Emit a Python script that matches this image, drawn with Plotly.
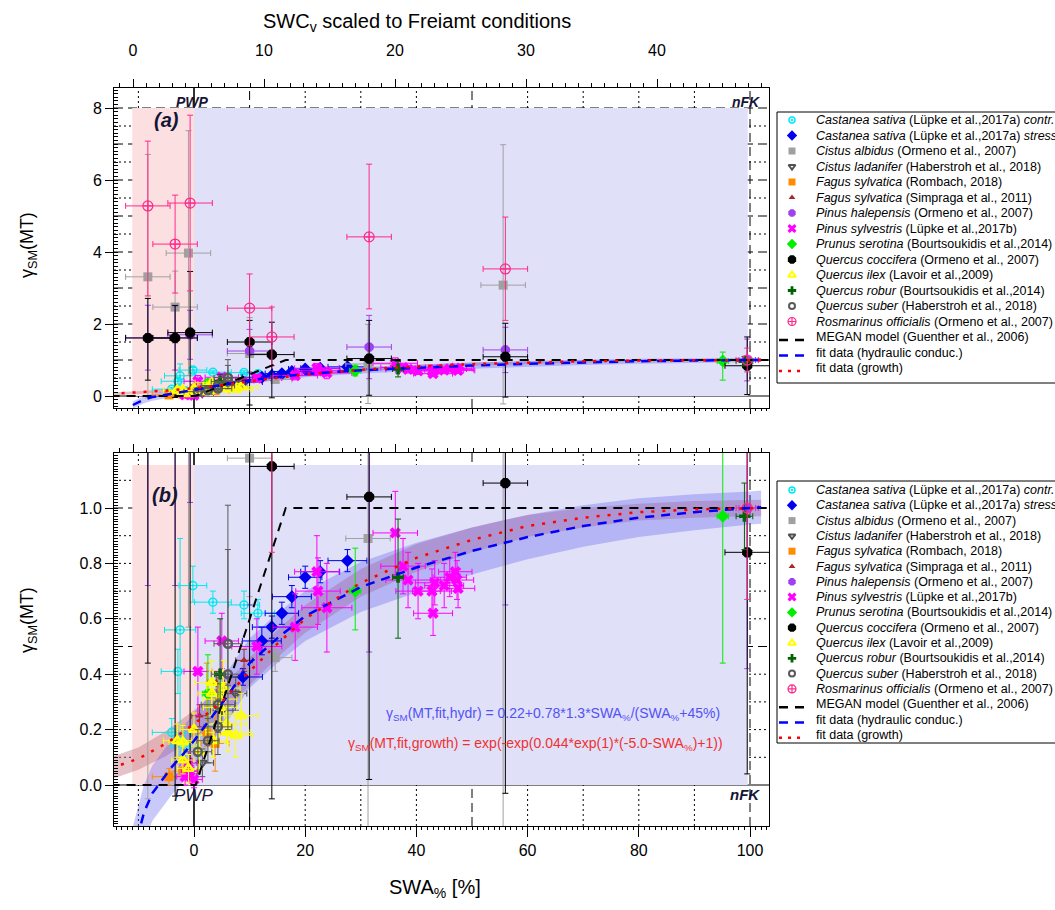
import plotly.graph_objects as go

W, H = 1055, 910

# ---------------- data ----------------
swa_tick_vals = [0, 20, 40, 60, 80, 100]
swc_tick_vals = [0, 10, 20, 30, 40]
ya_tick_vals = [0, 2, 4, 6, 8]
yb_tick_vals = [0.0, 0.2, 0.4, 0.6, 0.8, 1.0]
yb_tick_text = ["0.0", "0.2", "0.4", "0.6", "0.8", "1.0"]

# Castanea sativa control (cyan)
cs_contr_x = [-2.9, -2.5, -0.2, 3.4, 9.0, 11.5, -4.0, -1.5]
cs_contr_y = [0.41, 0.56, 0.72, 0.66, 0.65, 0.62, 0.19, 0.14]
cs_contr_ex = [3.0, 2.8, 2.5, 3.3, 2.8, 3.0, 3.5, 2.5]
cs_contr_eyp = [0.08, 0.33, 0.07, 0.04, 0.05, 0.05, 0.05, 0.05]
cs_contr_eym = [0.08, 0.52, 0.06, 0.04, 0.05, 0.05, 0.05, 0.05]

# Castanea sativa stress (blue)
cs_stress_x = [8.8, 12.2, 14.0, 15.8, 17.6, 20.0, 22.7, 27.6]
cs_stress_y = [0.39, 0.52, 0.57, 0.62, 0.68, 0.75, 0.77, 0.81]
cs_stress_ex = [3.5, 3.5, 3.5, 3.0, 3.5, 3.0, 3.5, 3.5]
cs_stress_ey = [0.03, 0.05, 0.04, 0.04, 0.04, 0.04, 0.04, 0.04]

# Cistus albidus (grey squares)
ca_x = [-8.3, -3.4, -1.0, 10.0, 14.6, 31.3, 55.6]
ca_y = [3.31, 2.47, 3.97, 1.18, 0.46, 0.89, 3.08]
ca_ex = [4.0, 4.0, 4.0, 4.0, 3.0, 4.0, 4.0]
ca_eyp = [3.4, 1.0, 3.4, 1.0, 0.05, 1.1, 3.9]
ca_eym = [3.36, 1.0, 3.4, 0.5, 0.05, 1.1, 3.3]

# Cistus ladanifer (dark grey open triangles)
cl_x = [1.5, 5.0, 7.5]
cl_y = [0.08, 0.27, 0.33]
cl_ex = [2.0, 2.0, 2.0]
cl_ey = [0.05, 0.06, 0.06]

# Fagus sylvatica Rombach (orange)
fr_x = [-4.5, -2.0, 2.3, 3.8]
fr_y = [0.03, 0.05, 0.19, 0.15]
fr_ex = [3.0, 2.5, 2.5, 2.5]
fr_eyp = [0.03, 0.03, 0.25, 0.1]
fr_eym = [0.03, 0.03, 0.05, 0.1]

# Fagus sylvatica Simpraga (brown triangles)
fs_x = [1.0, 4.0, 9.0]
fs_y = [0.25, 0.37, 0.45]
fs_ex = [1.5, 1.5, 1.5]
fs_ey = [0.04, 0.04, 0.04]

# Pinus halepensis (purple)
ph_x = [-8.3, -3.4, -0.7, 10.0, 31.5, 56.0, 99.5]
ph_y = [1.62, 1.62, 1.70, 1.25, 1.36, 1.28, 1.00]
ph_ex = [4.0, 4.0, 4.0, 4.0, 4.0, 4.0, 1.5]
ph_ey = [0.9, 0.9, 0.68, 0.6, 0.88, 0.63, 0.58]

# Pinus sylvestris (magenta x)
ps_x = [-1.6, -0.8, 0.0, -1.0, 0.7, 5.0, 11.3, 18.2, 22.1, 22.3, 23.9, 36.2, 37.6, 38.5,
        40.3, 42.8, 43.0, 43.3, 45.0, 46.0, 47.0, 47.3, 47.5]
ps_y = [0.03, 0.05, 0.02, 0.08, 0.41, 0.52, 0.50, 0.57, 0.77, 0.70, 0.64, 0.91, 0.79, 0.74,
        0.70, 0.70, 0.62, 0.73, 0.72, 0.75, 0.77, 0.74, 0.71]
ps_ex = [1.5, 1.5, 1.5, 1.5, 2.5, 3.0, 4.5, 4.0, 4.0, 4.0, 4.5, 4.0, 4.0, 4.0,
         4.0, 3.5, 3.5, 3.5, 3.5, 3.0, 3.0, 3.0, 3.0]
ps_ey = [0.03, 0.03, 0.03, 0.04, 0.16, 0.10, 0.10, 0.12, 0.13, 0.12, 0.16, 0.15, 0.10, 0.10,
         0.10, 0.08, 0.08, 0.08, 0.08, 0.07, 0.07, 0.07, 0.07]

# Prunus serotina (green)
pr_x = [2.5, 29.0, 95.1]
pr_y = [0.33, 0.70, 0.97]
pr_ex = [1.0, 1.0, 1.0]
pr_eyp = [0.14, 0.155, 0.25]
pr_eym = [0.14, 0.14, 0.53]

# Quercus coccifera (black)
qc_x = [-8.3, -3.4, -0.7, 10.0, 14.0, 31.5, 56.0, 99.5]
qc_y = [1.61, 1.61, 1.76, 1.50, 1.15, 1.04, 1.09, 0.84]
qc_ex = [4.0, 4.0, 4.0, 4.0, 4.0, 4.0, 4.0, 4.0]
qc_eyp = [1.1, 0.9, 1.7, 0.6, 0.9, 1.06, 0.93, 0.8]
qc_eym = [1.17, 1.65, 1.7, 1.75, 1.2, 1.02, 1.12, 0.8]

# Quercus ilex (yellow)
qi_x = [-2.0, 3.2, 3.2, 4.7, 5.9, 6.1, 3.5, -1.0, -2.0, -3.0, 5.3, 4.7, 7.5, 8.5, 1.0, 0.0]
qi_y = [0.155, 0.37, 0.33, 0.31, 0.22, 0.19, 0.16, 0.06, 0.09, 0.16, 0.35, 0.28, 0.18, 0.25, 0.12, 0.20]
qi_ex = [2.5, 3.0, 2.5, 3.0, 3.5, 4.0, 2.5, 2.0, 2.0, 2.5, 3.0, 3.0, 3.0, 3.0, 2.5, 2.5]
qi_ey = [0.06, 0.08, 0.08, 0.08, 0.07, 0.07, 0.06, 0.05, 0.05, 0.06, 0.1, 0.08, 0.08, 0.08, 0.06, 0.06]

# Quercus robur (dark green)
qr_x = [4.7, 36.7, 99.0]
qr_y = [0.40, 0.75, 0.97]
qr_ex = [1.0, 1.0, 1.5]
qr_eyp = [0.20, 0.21, 0.12]
qr_eym = [0.10, 0.22, 0.12]

# Quercus suber (grey open)
qs_x = [6.1, 6.1, 4.3, 4.3, 0.7, 2.5]
qs_y = [0.51, 0.40, 0.29, 0.21, 0.12, 0.16]
qs_ex = [2.5, 3.0, 3.0, 2.5, 2.5, 2.0]
qs_eyp = [0.50, 0.45, 0.10, 0.10, 0.08, 0.08]
qs_eym = [0.15, 0.20, 0.10, 0.10, 0.08, 0.08]

# Rosmarinus officialis (pink)
ro_x = [-8.3, -3.4, -0.7, 10.0, 14.0, 31.5, 56.0, 99.5]
ro_y = [5.28, 4.22, 5.36, 2.44, 1.64, 4.42, 3.53, 1.00]
ro_ex = [4.0, 4.0, 4.0, 4.0, 4.0, 4.0, 4.0, 2.0]
ro_eyp = [1.8, 1.36, 2.44, 0.95, 0.83, 2.02, 1.44, 0.33]
ro_eym = [2.5, 1.36, 2.44, 1.05, 0.80, 2.00, 1.43, 0.33]

# MEGAN model
megan_x = [-15.0, 0.3, 16.5, 105.0]
megan_y = [0.0, 0.0, 1.0, 1.0]

# fit (hydraulic conductivity) with band half width
hydr_x = [-11, -9, -7.5, -6, -4, -2, 0, 3, 6, 10, 15, 20, 30, 40, 50, 60, 70, 80, 90, 100, 102]
hydr_y = [-0.25, -0.10, -0.03, 0.01, 0.065, 0.11, 0.16, 0.24, 0.32, 0.44, 0.53, 0.61, 0.715, 0.785,
          0.845, 0.895, 0.935, 0.965, 0.985, 1.0, 1.003]
hydr_w = [0.10, 0.10, 0.10, 0.10, 0.10, 0.10, 0.10, 0.09, 0.09, 0.09, 0.09, 0.09, 0.09, 0.09,
          0.085, 0.08, 0.075, 0.07, 0.065, 0.06, 0.06]

# fit (growth) with band half width
grow_x = [-15, -10, -5, 0, 5, 10, 15, 20, 30, 40, 50, 60, 70, 80, 90, 100, 102]
grow_y = [0.06, 0.095, 0.15, 0.22, 0.30, 0.41, 0.51, 0.60, 0.73, 0.82, 0.885, 0.935, 0.965,
          0.985, 0.995, 1.0, 1.0]
grow_w = [0.04, 0.04, 0.045, 0.05, 0.05, 0.05, 0.05, 0.05, 0.05, 0.05, 0.045, 0.04, 0.035,
          0.03, 0.03, 0.03, 0.03]

# legend texts
legend_labels = [
    "<i>Castanea sativa</i> (Lüpke et al.,2017a) <i>contr.</i>",
    "<i>Castanea sativa</i> (Lüpke et al.,2017a) <i>stress</i>",
    "<i>Cistus albidus</i> (Ormeno et al., 2007)",
    "<i>Cistus ladanifer</i> (Haberstroh et al., 2018)",
    "<i>Fagus sylvatica</i> (Rombach, 2018)",
    "<i>Fagus sylvatica</i> (Simpraga et al., 2011)",
    "<i>Pinus halepensis</i> (Ormeno et al., 2007)",
    "<i>Pinus sylvestris</i> (Lüpke et al.,2017b)",
    "<i>Prunus serotina</i> (Bourtsoukidis et al.,2014)",
    "<i>Quercus coccifera</i> (Ormeno et al., 2007)",
    "<i>Quercus ilex</i> (Lavoir et al.,2009)",
    "<i>Quercus robur</i> (Bourtsoukidis et al.,2014)",
    "<i>Quercus suber</i> (Haberstroh et al., 2018)",
    "<i>Rosmarinus officialis</i> (Ormeno et al., 2007)",
    "MEGAN model (Guenther et al., 2006)",
    "fit data (hydraulic conduc.)",
    "fit data (growth)",
]

# ---------------- styles ----------------
SANS = "Liberation Sans, Arial, sans-serif"

species = [
    (cs_contr_x, cs_contr_y, cs_contr_ex, cs_contr_eyp, cs_contr_eym,
     dict(symbol="circle-open-dot", color="#00e8f0", size=8, lw=1.5)),
    (cs_stress_x, cs_stress_y, cs_stress_ex, cs_stress_ey, cs_stress_ey,
     dict(symbol="diamond", color="#0000ee", size=10, lw=0)),
    (ca_x, ca_y, ca_ex, ca_eyp, ca_eym,
     dict(symbol="square", color="#a0a0a0", size=9, lw=0)),
    (cl_x, cl_y, cl_ex, cl_ey, cl_ey,
     dict(symbol="triangle-down-open", color="#505050", size=8, lw=2)),
    (fr_x, fr_y, fr_ex, fr_eyp, fr_eym,
     dict(symbol="square", color="#ff8c00", size=9, lw=0)),
    (fs_x, fs_y, fs_ex, fs_ey, fs_ey,
     dict(symbol="triangle-up", color="#a52a2a", size=7, lw=0)),
    (ph_x, ph_y, ph_ex, ph_ey, ph_ey,
     dict(symbol="octagon", color="#a040f0", size=10, lw=0)),
    (ps_x, ps_y, ps_ex, ps_ey, ps_ey,
     dict(symbol="x", color="#ff00ff", size=10, lw=0)),
    (pr_x, pr_y, pr_ex, pr_eyp, pr_eym,
     dict(symbol="diamond", color="#00ee00", size=10, lw=0)),
    (qc_x, qc_y, qc_ex, qc_eyp, qc_eym,
     dict(symbol="octagon", color="#000000", size=11, lw=0)),
    (qi_x, qi_y, qi_ex, qi_ey, qi_ey,
     dict(symbol="triangle-up-open", color="#ffff00", size=9, lw=2.5)),
    (qr_x, qr_y, qr_ex, qr_eyp, qr_eym,
     dict(symbol="cross", color="#006400", size=9, lw=0)),
    (qs_x, qs_y, qs_ex, qs_eyp, qs_eym,
     dict(symbol="circle-open", color="#5a5a5a", size=8, lw=2.5)),
    (ro_x, ro_y, ro_ex, ro_eyp, ro_eym,
     dict(symbol="circle-cross-open", color="#ff2a8a", size=10, lw=1.2)),
]

# ---------------- geometry (pixels) ----------------
XL, XR = 114, 769
A_T, A_B = 88, 408
B_T, B_B = 453, 826
X0PX, XSC = 194.0, 5.56            # SWA 0 at px 194, px per SWA unit
YA0, YASC = 396.0, 36.0            # panel a: 0 at px 396
YB0, YBSC = 785.0, 277.0           # panel b: 0 at px 785
SWC0, SWCSC = 133.0, 13.1          # SWC 0 at px 133

x_rng = [(XL - X0PX) / XSC, (XR - X0PX) / XSC]
ya_rng = [(YA0 - A_B) / YASC, (YA0 - A_T) / YASC]
yb_rng = [(YB0 - B_B) / YBSC, (YB0 - B_T) / YBSC]
swc_rng = [(XL - SWC0) / SWCSC, (XR - SWC0) / SWCSC]

fig = go.Figure()
panels = [("x", "y"), ("x2", "y2")]

# bands and fit lines
for xa, ya in panels:
    fig.add_trace(go.Scatter(
        x=grow_x + grow_x[::-1],
        y=[v + w for v, w in zip(grow_y, grow_w)] + [v - w for v, w in zip(grow_y, grow_w)][::-1],
        fill="toself", fillcolor="rgba(195,120,130,0.45)", line=dict(width=0),
        mode="lines", xaxis=xa, yaxis=ya, showlegend=False, hoverinfo="skip"))
    fig.add_trace(go.Scatter(
        x=hydr_x + hydr_x[::-1],
        y=[v + w for v, w in zip(hydr_y, hydr_w)] + [v - w for v, w in zip(hydr_y, hydr_w)][::-1],
        fill="toself", fillcolor="rgba(95,95,240,0.33)", line=dict(width=0),
        mode="lines", xaxis=xa, yaxis=ya, showlegend=False, hoverinfo="skip"))

for xs, ys, ex, eyp, eym, sty in species:
    for xa, ya in panels:
        fig.add_trace(go.Scatter(
            x=xs, y=ys, mode="markers", xaxis=xa, yaxis=ya, showlegend=False,
            marker=dict(symbol=sty["symbol"], size=sty["size"], color=sty["color"],
                        line=dict(color=sty["color"], width=sty["lw"])),
            error_x=dict(type="data", array=ex, color=sty["color"], thickness=1, width=3),
            error_y=dict(type="data", array=eyp, arrayminus=eym, color=sty["color"],
                         thickness=1, width=3),
            cliponaxis=True, hoverinfo="skip"))

for xa, ya in panels:
    fig.add_trace(go.Scatter(x=megan_x, y=megan_y, mode="lines", xaxis=xa, yaxis=ya,
                             line=dict(color="black", width=2, dash="9px,7px"),
                             showlegend=False, hoverinfo="skip"))
    fig.add_trace(go.Scatter(x=hydr_x, y=hydr_y, mode="lines", xaxis=xa, yaxis=ya,
                             line=dict(color="#0000ff", width=2.5, dash="9px,7px"),
                             showlegend=False, hoverinfo="skip"))
    fig.add_trace(go.Scatter(x=grow_x, y=grow_y, mode="lines", xaxis=xa, yaxis=ya,
                             line=dict(color="#ff0000", width=2.5, dash="3px,8px"),
                             showlegend=False, hoverinfo="skip"))

# invisible carriers for the top SWC axes (so the axes are bound to data)
for xa, ya in (("x3", "y"), ("x4", "y2")):
    fig.add_trace(go.Scatter(x=swc_tick_vals, y=[0] * len(swc_tick_vals), mode="markers",
                             xaxis=xa, yaxis=ya, marker=dict(opacity=0, size=1),
                             showlegend=False, hoverinfo="skip"))

# ---------------- shapes: shading and grid ----------------
shapes = []
for xa, ya, top in (("x", "y", 8.0), ("x2", "y2", 1.155)):
    shapes.append(dict(type="rect", xref=xa, yref=ya, x0=-11.1, x1=0, y0=0, y1=top,
                       fillcolor="#fce0e1", line=dict(width=0), layer="below"))
    shapes.append(dict(type="rect", xref=xa, yref=ya, x0=0, x1=99.6, y0=0, y1=top,
                       fillcolor="#e0e0f9", line=dict(width=0), layer="below"))

DOT = "2px,3px"
DASH = "9px,5px"
for xa, ya in panels:
    for v in range(-10, 101, 10):
        if v == 0:
            continue
        dash = DASH if v in (10, 50, 100) else DOT
        shapes.append(dict(type="line", xref=xa, yref=ya + " domain", x0=v, x1=v, y0=0, y1=1,
                           line=dict(color="black", width=1, dash=dash), layer="below"))
    shapes.append(dict(type="line", xref=xa, yref=ya + " domain", x0=0, x1=0, y0=0, y1=1,
                       line=dict(color="black", width=1.6), layer="below"))
    shapes.append(dict(type="line", xref=xa + " domain", yref=ya, x0=0, x1=1, y0=0, y1=0,
                       line=dict(color="black", width=1), layer="below"))

for k in range(1, 17):
    v = k * 0.5
    shapes.append(dict(type="line", xref="x domain", yref="y", x0=0, x1=1, y0=v, y1=v,
                       line=dict(color="black", width=1, dash=DASH if k % 2 == 0 else DOT),
                       layer="below"))
for k in range(1, 12):
    v = k * 0.1
    shapes.append(dict(type="line", xref="x2 domain", yref="y2", x0=0, x1=1, y0=v, y1=v,
                       line=dict(color="black", width=1, dash=DASH if k in (5, 10) else DOT),
                       layer="below"))

# legend boxes
shapes.append(dict(type="rect", xref="paper", yref="paper", x0=777 / W, x1=1.02,
                   y0=1 - 383 / H, y1=1 - 112 / H, line=dict(color="black", width=1)))
shapes.append(dict(type="rect", xref="paper", yref="paper", x0=777 / W, x1=1.02,
                   y0=1 - 743 / H, y1=1 - 481 / H, line=dict(color="black", width=1)))

# ---------------- legends (drawn on a pixel axis) ----------------
annotations = []
line_styles = [("black", "9px,7px"), ("#0000ff", "9px,7px"), ("#ff0000", "3px,6px")]
for y_first, step in ((120.0, 15.5), (490.0, 15.3)):
    for i, lab in enumerate(legend_labels):
        yy = y_first + i * step
        if i < len(species):
            sty = species[i][5]
            fig.add_trace(go.Scatter(
                x=[792], y=[yy], mode="markers", xaxis="x5", yaxis="y5", showlegend=False,
                marker=dict(symbol=sty["symbol"], size=max(6, sty["size"] - 2), color=sty["color"],
                            line=dict(color=sty["color"], width=min(sty["lw"], 2))),
                hoverinfo="skip"))
        else:
            col, dsh = line_styles[i - len(species)]
            fig.add_trace(go.Scatter(
                x=[779, 806], y=[yy + 3, yy + 3], mode="lines", xaxis="x5", yaxis="y5",
                showlegend=False, line=dict(color=col, width=2.5, dash=dsh), hoverinfo="skip"))
        annotations.append(dict(x=814, y=yy, xref="x5", yref="y5", text=lab, showarrow=False,
                                xanchor="left", yanchor="middle",
                                font=dict(family=SANS, size=12.5, color="black")))

# ---------------- text annotations ----------------
def ann(px, py, text, size, color="black", family=SANS, angle=0, xanchor="center"):
    annotations.append(dict(x=px, y=py, xref="x5", yref="y5", text=text, showarrow=False,
                            xanchor=xanchor, yanchor="middle", textangle=angle,
                            font=dict(family=family, size=size, color=color)))

ann(417, 22, "SWC<sub>v</sub> scaled to Freiamt conditions", 20)
ann(435, 888, "SWA<sub>%</sub> [%]", 20)
ann(28, 245, "γ<sub>SM</sub>(MT)", 18, angle=-90)
ann(28, 620, "γ<sub>SM</sub>(MT)", 18, angle=-90)
ann(166, 120, "<b><i>(a)</i></b>", 20, color="#151535")
ann(165, 495, "<b><i>(b)</i></b>", 20, color="#151535")
ann(192, 102, "<b><i>PWP</i></b>", 14, color="#151535")
ann(746, 102, "<b><i>nFK</i></b>", 14, color="#151535")
ann(193, 795, "<i>PWP</i>", 17, color="#151535")
ann(745, 794, "<b><i>nFK</i></b>", 15, color="#151535")
ann(553, 714, "γ<sub>SM</sub>(MT,fit,hydr) = 0.22+0.78*1.3*SWA<sub>%</sub>/(SWA<sub>%</sub>+45%)",
    14, color="#5252f5")
ann(535, 744, "γ<sub>SM</sub>(MT,fit,growth) = exp(-exp(0.044*exp(1)*(-5.0-SWA<sub>%</sub>)+1))",
    14, color="#f03030")

# ---------------- layout ----------------
xdom = [XL / W, XR / W]
tickfont = dict(family=SANS, size=16, color="black")
common_x = dict(showgrid=False, zeroline=False, showline=True, linecolor="black", linewidth=1,
                tickcolor="black", range=x_rng, domain=xdom)
top_axis = dict(domain=xdom, side="top", range=swc_rng, showgrid=False, zeroline=False,
                showline=True, linecolor="black", ticks="outside", tickvals=swc_tick_vals,
                ticklen=8, tickcolor="black",
                minor=dict(ticks="outside", tickmode="linear", tick0=0, dtick=1, ticklen=4,
                           tickcolor="black"))

fig.update_layout(
    width=W, height=H, margin=dict(l=0, r=0, t=0, b=0),
    paper_bgcolor="white", plot_bgcolor="rgba(0,0,0,0)", showlegend=False,
    font=dict(family=SANS, color="black"),
    xaxis=dict(**common_x, anchor="y", ticks="outside", tickvals=list(range(-10, 101, 10)),
               ticklen=5, showticklabels=False,
               minor=dict(ticks="outside", tickmode="linear", tick0=0, dtick=1, ticklen=2,
                          tickcolor="black")),
    yaxis=dict(domain=[1 - A_B / H, 1 - A_T / H], range=ya_rng, anchor="x", showgrid=False,
               zeroline=False, showline=True, mirror=True, linecolor="black", ticks="outside",
               tickvals=ya_tick_vals, ticklen=8, tickcolor="black", tickfont=tickfont,
               minor=dict(ticks="inside", tickmode="linear", tick0=0, dtick=0.1, ticklen=4,
                          tickcolor="black")),
    xaxis3=dict(**top_axis, anchor="y", showticklabels=True, tickfont=tickfont,
                ticklabelstandoff=17),
    xaxis2=dict(**common_x, anchor="y2", ticks="outside", tickvals=swa_tick_vals, ticklen=10,
                tickfont=tickfont, ticklabelstandoff=0,
                minor=dict(ticks="outside", tickmode="linear", tick0=0, dtick=1, ticklen=3,
                           tickcolor="black")),
    yaxis2=dict(domain=[1 - B_B / H, 1 - B_T / H], range=yb_rng, anchor="x2", showgrid=False,
                zeroline=False, showline=True, mirror=True, linecolor="black", ticks="outside",
                tickvals=yb_tick_vals, ticktext=yb_tick_text, ticklen=8, tickcolor="black",
                tickfont=tickfont,
                minor=dict(ticks="inside", tickmode="linear", tick0=0, dtick=0.01, ticklen=4,
                           tickcolor="black")),
    xaxis4=dict(**top_axis, anchor="y2", showticklabels=False),
    xaxis5=dict(domain=[0, 1], range=[0, W], anchor="y5", visible=False, fixedrange=True),
    yaxis5=dict(domain=[0, 1], range=[H, 0], anchor="x5", visible=False, fixedrange=True),
    shapes=shapes, annotations=annotations,
)

fig.write_html("out.html")
